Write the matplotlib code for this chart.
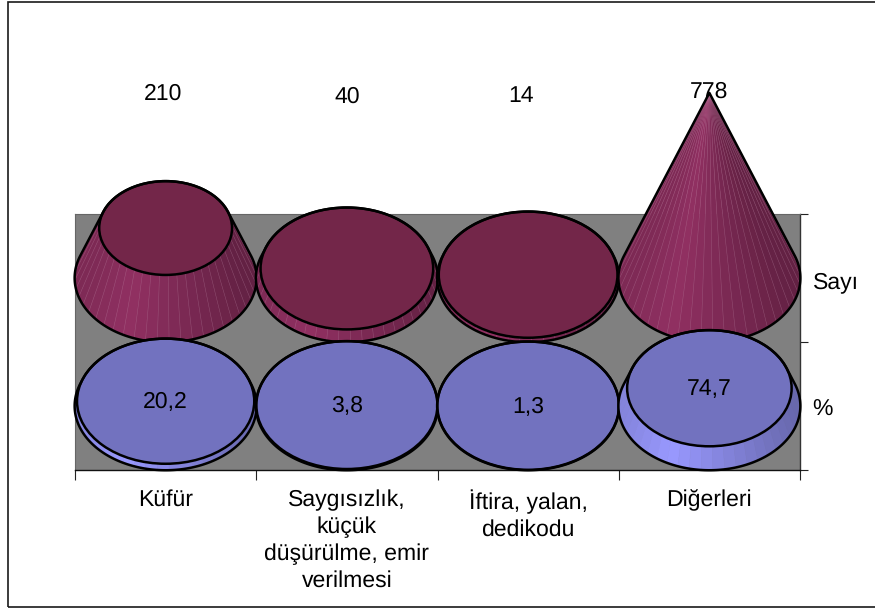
import numpy as np
import matplotlib
matplotlib.use("Agg")
import matplotlib.pyplot as plt
from matplotlib.patches import Polygon, Ellipse, Rectangle
from matplotlib.colors import to_rgb

plt.rcParams['font.family'] = ['Liberation Sans', 'DejaVu Sans']
plt.rcParams['text.hinting'] = 'none'
plt.rcParams['text.hinting_factor'] = 1

categories = ["Küfür", "Saygısızlık,\nküçük\ndüşürülme, emir\nverilmesi", "İftira, yalan,\ndedikodu", "Diğerleri"]
series_names = ["Sayı", "%"]
sayi_values = [210, 40, 14, 778]
yuzde_values = [20.2, 3.8, 1.3, 74.7]
sayi_labels = ["210", "40", "14", "778"]
yuzde_labels = ["20,2", "3,8", "1,3", "74,7"]

W, H = 875, 610
L, R, T, B = 75, 800, 214, 470
FS = 16.4
cone_max = max(sayi_values)
row_span = 538
rx = 0.502
ry = 270
N = 48

fig = plt.figure(figsize=(W/100, H/100), dpi=100, facecolor='white')
fig.add_artist(Rectangle((7.5/W, 3/H), (W+10)/W, (H-4.5)/H, transform=fig.transFigure,
                         fill=False, ec='#1a1a1a', lw=1.2))
ax = fig.add_axes([L/W, 1-B/H, (R-L)/W, (B-T)/H], facecolor='#808080')
ax.set_xlim(0, 4)
ax.set_ylim(0, 2*row_span)
for s, c, w in [('left', '#666666', 0.8), ('top', '#666666', 0.8), ('right', '#333333', 1.0), ('bottom', '#111111', 1.0)]:
    ax.spines[s].set_color(c)
    ax.spines[s].set_linewidth(w)

ax.set_xticks(np.arange(5))
ax.set_xticklabels([])
ax.set_xticks(np.arange(4)+0.5, minor=True)
ax.set_xticklabels(categories, minor=True, fontsize=FS, linespacing=1.33, va='top')
ax.tick_params(axis='x', which='major', length=7.5, width=0.8, color='#222222')
ax.tick_params(axis='x', which='minor', length=0, pad=14)

ax.yaxis.tick_right()
ax.set_yticks([0, row_span, 2*row_span])
ax.set_yticklabels([])
ax.set_yticks([row_span*0.5, row_span*1.5], minor=True)
ax.set_yticklabels(series_names[::-1], minor=True, fontsize=FS)
ax.tick_params(axis='y', which='major', length=6, width=0.8, color='#222222')
ax.tick_params(axis='y', which='minor', length=0, pad=9)
for t in ax.yaxis.get_minorticklabels():
    t.set_transform(t.get_transform() + matplotlib.transforms.Affine2D().translate(0, -2))


def frustum(cx, base, v, side, top, seam, z):
    k = 1 - v/cone_max
    # tangent angle of the silhouette between base and top ellipses
    phi = np.arcsin(ry/cone_max)
    edges = np.arange(-np.pi-phi, phi+1e-9, 2*np.pi/N)
    edges = np.r_[edges, phi]
    c0 = np.array(to_rgb(side))
    for a, b in zip(edges[:-1], edges[1:]):
        m = np.cos((a+b)/2)
        f = np.interp(m, [-1, -0.45, 1], [0.86, 1.0, 0.68])
        xs = cx + rx*np.array([np.cos(a), np.cos(b), k*np.cos(b), k*np.cos(a)])
        ys = base + np.array([ry*np.sin(a), ry*np.sin(b), v+k*ry*np.sin(b), v+k*ry*np.sin(a)])
        ax.add_patch(Polygon(np.c_[xs, ys], closed=True, fc=c0*f, ec=c0*f, lw=0.4,
                             clip_on=False, zorder=z))
    if seam:
        for a in edges[1:-1]:
            ax.plot([cx+rx*np.cos(a), cx+k*rx*np.cos(a)],
                    [base+ry*np.sin(a), base+v+k*ry*np.sin(a)],
                    color=seam, lw=0.4, alpha=0.35, clip_on=False, zorder=z+0.01)
    t1 = np.linspace(phi, -np.pi-phi, 240)
    t2 = np.linspace(np.pi-phi, phi, 120)
    ox = np.r_[cx+rx*np.cos(t1), cx+k*rx*np.cos(t2)]
    oy = np.r_[base+ry*np.sin(t1), base+v+k*ry*np.sin(t2)]
    ax.add_patch(Polygon(np.c_[ox, oy], closed=True, fill=False, ec='black', lw=1.8,
                         clip_on=False, zorder=z+0.2, joinstyle='round'))
    if k > 0:
        ax.add_patch(Ellipse((cx, base+v), 2*k*rx, 2*k*ry, fc=top, ec='black', lw=1.8,
                             clip_on=False, zorder=z+0.1))


centres = np.arange(4) + 0.5
for i, v in enumerate(sayi_values):
    frustum(centres[i], row_span*1.5, v, '#913062', '#732649', '#c98aad', 3+i*0.5)
for i, v in enumerate(yuzde_values):
    frustum(centres[i], row_span*0.5, v, '#9999FF', '#7272BF', None, 6+i*0.5)

label_shift_x = [-3, 0, -7, 0]
label_shift_y = [-1, -4, -3, 1]
for i, s in enumerate(sayi_labels):
    ax.annotate(s, (centres[i], row_span*1.5+cone_max), xytext=(label_shift_x[i]*0.72, label_shift_y[i]*0.72),
                textcoords='offset points', ha='center', va='center', fontsize=FS,
                annotation_clip=False, zorder=20)
for i, s in enumerate(yuzde_labels):
    ax.annotate(s, (centres[i], row_span*0.5+yuzde_values[i]), xytext=(0, -0.7),
                textcoords='offset points', ha='center', va='center',
                fontsize=FS, annotation_clip=False, zorder=20)

fig.savefig("out.png", dpi=100, facecolor='white')
